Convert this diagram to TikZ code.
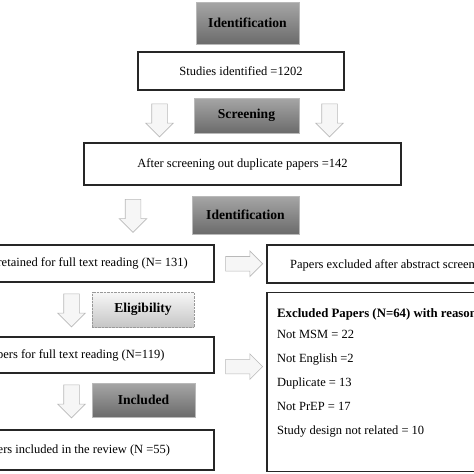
\documentclass[tikz,border=0pt]{standalone}
\usepackage{fontspec}
\setmainfont{Liberation Serif}
\usepackage{tikz}
\usetikzlibrary{positioning,shapes.arrows,calc}

\begin{document}
\begin{tikzpicture}
    [x=1pt,y=-1pt,
      box/.style={draw=black!85, line width=1.1pt, fill=white, inner sep=0pt, font=\fontsize{12.5}{15}\selectfont},
      darkhead/.style={draw=gray!55, top color=gray!70, bottom color=black!58, inner sep=0pt, font=\fontsize{13.6}{16}\selectfont\bfseries},
      lighthead/.style={draw=gray!80, densely dotted, top color=gray!6, bottom color=gray!45, inner sep=0pt, font=\fontsize{13.6}{16}\selectfont\bfseries},
      downarr/.style={single arrow, rotate=-90, draw=gray!55, fill=gray!7, line width=0.6pt, minimum height=33pt, minimum width=0pt, inner xsep=0pt, inner ysep=7.5pt, single arrow head extend=6pt},
      rightarr/.style={single arrow, draw=gray!55, fill=gray!7, line width=0.6pt, minimum height=37pt, minimum width=0pt, inner xsep=0pt, inner ysep=7pt, single arrow head extend=5.5pt},
    ]
    \useasboundingbox (0,0) rectangle (474,474);
    \clip (0,0) rectangle (474,474);

    % top part
    \node [darkhead, minimum width=103pt, minimum height=42pt] (ident1) at (247.5,23) {Identification};
    \node [box, minimum width=206pt, minimum height=38pt] (studies) at (241,71) {Studies identified =1202};
    \node [darkhead, minimum width=105pt, minimum height=35pt] (screen) at (246.5,115.5) {Screening};
    \node [downarr] (dl1) at (159.5,116.5) {};
    \node [downarr] (dr1) at (329.5,116.5) {};
    \node [box, minimum width=317pt, minimum height=42pt] (after) at (242.5,164) {After screening out duplicate papers =142};
    \node [downarr] (d2) at (133,212) {};
    \node [darkhead, minimum width=107pt, minimum height=38pt] (ident2) at (245.5,215) {Identification};

    % left column
    \node [box, minimum width=279pt, minimum height=37pt] (retained) at (74.5,263.5) {Papers retained for full text reading (N= 131)};
    \node [downarr] (d3) at (71.5,306.5) {};
    \node [lighthead, minimum width=102pt, minimum height=35pt] (elig) at (143,309.5) {Eligibility};
    \node [box, minimum width=279pt, minimum height=36pt] (fulltext) at (74.5,355) {Papers for full text reading (N=119)};
    \node [downarr] (d4) at (71.5,397.5) {};
    \node [darkhead, minimum width=103pt, minimum height=34pt] (incl) at (143.5,400) {Included};
    \node [box, minimum width=279pt, minimum height=40pt] (review) at (74.5,450) {Papers included in the review (N =55)};

    % right column
    \node [box, minimum width=279pt, minimum height=38pt] (abstract) at (406.5,264) {};
    \node [font=\fontsize{12.5}{15}\selectfont, anchor=west, inner sep=0pt] (abstxt) at (290,265) {Papers excluded after abstract screening};
    \node [box, minimum width=279pt, minimum height=179pt] (excl) at (406.5,382.2) {};
    \node [rightarr] (r1) at ($(retained.east)!0.5!(abstract.west)$) {};
    \node [rightarr] (r2) at ($(fulltext.east)!0.5!(excl.west)+(0,-2)$) {};

    \node [font=\fontsize{12.8}{15}\selectfont\bfseries, anchor=base west, inner sep=0pt] (reasons) at (277,317.3) {Excluded Papers (N=64) with reasons};
    \foreach \txt/\yy [count=\i] in {Not MSM = 22/338.7, Not English =2/362.7, Duplicate = 13/386.3, Not PrEP = 17/410, Study design not related = 10/434}
      \node [font=\fontsize{12.5}{15}\selectfont, anchor=base west, inner sep=0pt] (why\i) at (277,\yy) {\txt};
  \end{tikzpicture}
\end{document}
